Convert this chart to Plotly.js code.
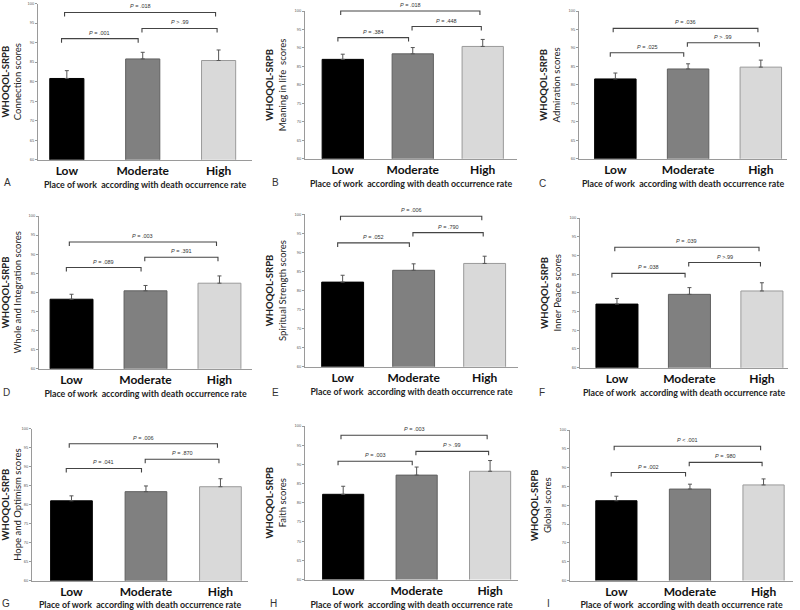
<!DOCTYPE html>
<html>
<head>
<meta charset="utf-8">
<script src="https://cdn.plot.ly/plotly-3.0.1.min.js"></script>
<style>html,body{margin:0;padding:0;background:#fff;}#chart{width:800px;height:610px;}</style>
</head>
<body>
<div id="chart"></div>
<script>
// ---- data ----
const categories = ['Low', 'Moderate', 'High'];
const yTicks = [60, 65, 70, 75, 80, 85, 90, 95, 100];

const connectionMeans = [80.8, 85.8, 85.4];
const connectionErr = [2.0, 1.7, 2.7];
const connectionP = ['= .001', '&gt; .99', '= .018'];

const meaningMeans = [86.9, 88.4, 90.4];
const meaningErr = [1.4, 1.7, 1.9];
const meaningP = ['= .384', '= .448', '= .018'];

const admirationMeans = [81.6, 84.3, 84.8];
const admirationErr = [1.6, 1.4, 1.9];
const admirationP = ['= .025', '&gt; .99', '= .036'];

const wholeMeans = [78.2, 80.4, 82.4];
const wholeErr = [1.3, 1.4, 1.9];
const wholeP = ['= .089', '= .391', '= .003'];

const strengthMeans = [82.2, 85.3, 87.1];
const strengthErr = [1.8, 1.7, 1.9];
const strengthP = ['= .052', '= .790', '= .006'];

const peaceMeans = [77.0, 79.6, 80.5];
const peaceErr = [1.5, 1.8, 2.2];
const peaceP = ['= .038', '&gt;.99', '= .039'];

const hopeMeans = [81.0, 83.4, 84.7];
const hopeErr = [1.3, 1.5, 2.1];
const hopeP = ['= .041', '= .870', '= .006'];

const faithMeans = [82.2, 87.2, 88.2];
const faithErr = [2.1, 2.1, 2.8];
const faithP = ['= .003', '&gt; .99', '= .003'];

const globalMeans = [81.2, 84.3, 85.4];
const globalErr = [1.2, 1.3, 1.6];
const globalP = ['= .002', '= .980', '&lt; .001'];

const yTitles = ['Connection scores', 'Meaning in life\u00a0\u00a0scores', 'Admiration scores',
  'Whole and Integration scores', 'Spiritual Strength scores', 'Inner Peace scores',
  'Hope and Optimism scores', 'Faith scores', 'Global scores'];
const panelLetters = ['A', 'B', 'C', 'D', 'E', 'F', 'G', 'H', 'I'];
const xTitle = 'Place of work\u00a0\u00a0according with death occurrence rate';

// ---- layout of panels (pixels) ----
const W = 800, H = 610;
const panels = [
  {m: connectionMeans, e: connectionErr, p: connectionP, L: 38, R: 252, T: 3.5, B: 159.7, xr: [-0.38, 2.44], bw: 0.45, brk: [91.0, 93.6, 97.7], lx: 2, ly: 182},
  {m: meaningMeans, e: meaningErr, p: meaningP, L: 305, R: 517, T: 11, B: 158.7, xr: [-0.54, 2.49], bw: 0.59, brk: [92.8, 95.8, 100.0], lx: 270, ly: 182},
  {m: admirationMeans, e: admirationErr, p: admirationP, L: 579, R: 787, T: 11, B: 158.7, xr: [-0.5, 2.36], bw: 0.57, brk: [88.7, 91.4, 95.3], lx: 537, ly: 183},
  {m: wholeMeans, e: wholeErr, p: wholeP, L: 39, R: 252, T: 216, B: 368.7, xr: [-0.44, 2.44], bw: 0.58, brk: [86.5, 89.2, 93.2], lx: 1, ly: 392},
  {m: strengthMeans, e: strengthErr, p: strengthP, L: 305, R: 518, T: 214.3, B: 366.7, xr: [-0.53, 2.47], bw: 0.59, brk: [92.5, 95.2, 99.5], lx: 270, ly: 392},
  {m: peaceMeans, e: peaceErr, p: peaceP, L: 580, R: 788, T: 218, B: 367.7, xr: [-0.51, 2.36], bw: 0.58, brk: [85.2, 88.1, 92.2], lx: 537, ly: 392},
  {m: hopeMeans, e: hopeErr, p: hopeP, L: 32, R: 248, T: 428.5, B: 580.7, xr: [-0.53, 2.37], bw: 0.56, brk: [89.5, 91.9, 96.0], lx: 0, ly: 603},
  {m: faithMeans, e: faithErr, p: faithP, L: 305, R: 518, T: 426, B: 579.5, xr: [-0.52, 2.38], bw: 0.56, brk: [90.8, 93.4, 97.6], lx: 268, ly: 603},
  {m: globalMeans, e: globalErr, p: globalP, L: 570, R: 793, T: 430, B: 580.5, xr: [-0.63, 2.4], bw: 0.56, brk: [88.7, 91.4, 95.7], lx: 545, ly: 603}
];

const barFill = ['#000000', '#808080', '#d9d9d9'];
const barLine = ['#000000', '#606060', '#9a9a9a'];
const bracketSpans = [[-0.07, 0.94], [0.99, 1.98], [-0.03, 1.96]];

const traces = [];
const layout = {
  width: W, height: H,
  margin: {l: 0, r: 0, t: 0, b: 0},
  paper_bgcolor: '#ffffff', plot_bgcolor: '#ffffff',
  showlegend: false,
  font: {family: 'Lato, "Open Sans", sans-serif', color: '#222'},
  shapes: [], annotations: []
};

panels.forEach((pn, i) => {
  const n = i === 0 ? '' : String(i + 1);
  const xa = 'x' + n, ya = 'y' + n;
  traces.push({
    type: 'bar', x: categories, y: pn.m, xaxis: xa, yaxis: ya,
    base: 0, width: pn.bw,
    marker: {color: barFill, line: {color: barLine, width: 1}},
    error_y: {type: 'data', array: pn.e, arrayminus: [0, 0, 0], symmetric: false,
      color: '#555555', thickness: 1, width: 2},
    hoverinfo: 'skip'
  });
  layout['xaxis' + n] = {
    domain: [pn.L / W, pn.R / W], anchor: ya, range: pn.xr,
    type: 'category', showline: true, linecolor: '#9a9a9a', linewidth: 1,
    ticks: '', ticklen: 0, showgrid: false, zeroline: false, fixedrange: true,
    tickfont: {family: 'Lato', size: 12, weight: 'bold', color: '#111'},
    title: {text: xTitle, standoff: 4, font: {family: 'Lato', size: 8.8, weight: 'bold', color: '#222'}}
  };
  layout['yaxis' + n] = {
    domain: [1 - pn.B / H, 1 - pn.T / H], anchor: xa, range: [60, 100],
    tickvals: yTicks, ticks: 'outside', ticklen: 2, tickcolor: '#9a9a9a',
    showline: true, linecolor: '#9a9a9a', linewidth: 1,
    showgrid: false, zeroline: false, fixedrange: true,
    tickfont: {size: 4, color: '#555', family: 'Liberation Sans'},
    title: {text: '<b>WHOQOL-SRPB</b><br>' + yTitles[i], standoff: 6,
      font: {family: 'Lato', size: 9.5, color: '#222'}}
  };
  const xf = v => (v - pn.xr[0]) / (pn.xr[1] - pn.xr[0]);
  const yf = v => (v - 60) / 40;
  const tip = 4 / (pn.B - pn.T);
  bracketSpans.forEach((sp, k) => {
    const y = yf(pn.brk[k]);
    const x0 = xf(sp[0]), x1 = xf(sp[1]);
    layout.shapes.push({
      type: 'path', xref: xa + ' domain', yref: ya + ' domain',
      path: `M ${x0} ${y - tip} L ${x0} ${y} L ${x1} ${y} L ${x1} ${y - tip}`,
      line: {color: '#444', width: 1.1}
    });
    layout.annotations.push({
      xref: xa + ' domain', yref: ya + ' domain', x: (x0 + x1) / 2, y: y,
      yanchor: 'bottom', xanchor: 'center', yshift: 1, showarrow: false,
      text: '<i>P</i> ' + pn.p[k],
      font: {family: 'Liberation Sans', size: 5.5, color: '#333'}
    });
  });
  layout.annotations.push({
    xref: 'paper', yref: 'paper', x: pn.lx / W, y: 1 - pn.ly / H,
    xanchor: 'left', yanchor: 'middle', showarrow: false,
    text: panelLetters[i], font: {family: 'Liberation Sans', size: 10, color: '#333'}
  });
});

Plotly.newPlot('chart', traces, layout, {staticPlot: true, displayModeBar: false});
</script>
</body>
</html>
